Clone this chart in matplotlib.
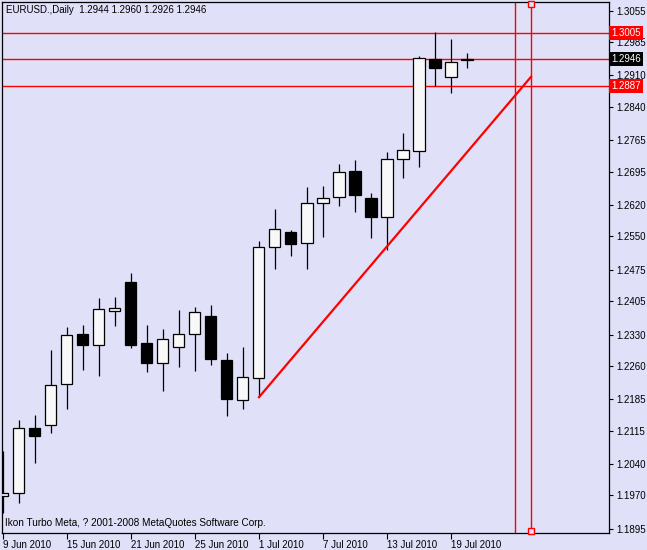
import matplotlib.pyplot as plt

plt.rcParams['font.family'] = ['Liberation Sans', 'DejaVu Sans']

# EURUSD daily candles, 9 Jun - 20 Jul 2010
dates = ['9 Jun', '10 Jun', '11 Jun', '14 Jun', '15 Jun', '16 Jun', '17 Jun', '18 Jun',
         '21 Jun', '22 Jun', '23 Jun', '24 Jun', '25 Jun', '28 Jun', '29 Jun', '30 Jun',
         '1 Jul', '2 Jul', '5 Jul', '6 Jul', '7 Jul', '8 Jul', '9 Jul', '12 Jul',
         '13 Jul', '14 Jul', '15 Jul', '16 Jul', '19 Jul', '20 Jul']
opens = [1.1969, 1.1976, 1.2121, 1.2128, 1.2220, 1.2331, 1.2307, 1.2383,
         1.2448, 1.2311, 1.2267, 1.2302, 1.2331, 1.2372, 1.2273, 1.2184,
         1.2233, 1.2526, 1.2560, 1.2535, 1.2625, 1.2638, 1.2696, 1.2636,
         1.2593, 1.2723, 1.2741, 1.2947, 1.2907, 1.2944]
highs = [1.2070, 1.2139, 1.2150, 1.2296, 1.2347, 1.2352, 1.2412, 1.2414,
         1.2468, 1.2352, 1.2343, 1.2385, 1.2392, 1.2396, 1.2289, 1.2302,
         1.2540, 1.2611, 1.2564, 1.2660, 1.2663, 1.2712, 1.2721, 1.2647,
         1.2739, 1.2781, 1.2954, 1.3007, 1.2992, 1.2960]
lows = [1.1930, 1.1953, 1.2043, 1.2110, 1.2164, 1.2251, 1.2237, 1.2349,
        1.2300, 1.2246, 1.2204, 1.2258, 1.2249, 1.2262, 1.2148, 1.2164,
        1.2190, 1.2477, 1.2506, 1.2477, 1.2549, 1.2618, 1.2605, 1.2546,
        1.2519, 1.2681, 1.2705, 1.2886, 1.2871, 1.2926]
closes = [1.1976, 1.2121, 1.2103, 1.2217, 1.2329, 1.2307, 1.2387, 1.2390,
          1.2307, 1.2267, 1.2320, 1.2331, 1.2381, 1.2275, 1.2186, 1.2235,
          1.2526, 1.2566, 1.2533, 1.2625, 1.2636, 1.2694, 1.2643, 1.2593,
          1.2723, 1.2743, 1.2949, 1.2927, 1.2940, 1.2946]

price_ticks = [1.3055, 1.2985, 1.2910, 1.2840, 1.2765, 1.2695, 1.2620, 1.2550, 1.2475,
               1.2405, 1.2330, 1.2260, 1.2185, 1.2115, 1.2040, 1.1970, 1.1895]

# objects on the chart
hline_levels = [1.3005, 1.2946, 1.2887]
hline_tag_colors = ['red', 'black', 'red']
trend_x = [16, 33]
trend_y = [1.2190, 1.2907]
vline_x = [32, 33]

bg = '#E0E0F8'
fig = plt.figure(figsize=(6.47, 5.5), dpi=100, facecolor=bg)
ax = fig.add_axes([2/647, 17/550, 607/647, 531/550], facecolor=bg)

x = list(range(len(dates)))
bottoms = [min(o, c) for o, c in zip(opens, closes)]
heights = [max(abs(c - o), 0.00005) for o, c in zip(opens, closes)]
colors = ['#F8F8F8' if c >= o else 'black' for o, c in zip(opens, closes)]

ax.vlines(x, lows, highs, color='black', linewidth=0.9, zorder=2)
ax.bar(x, heights, bottom=bottoms, width=0.69, color=colors,
       edgecolor='black', linewidth=0.9, zorder=3)

for lvl in hline_levels:
    ax.axhline(lvl, color='red', linewidth=1.0, zorder=1)
for vx in vline_x:
    ax.axvline(vx, color='red', linewidth=1.0, zorder=1)
ax.plot(trend_x, trend_y, color='red', linewidth=1.6, zorder=4)
ax.plot([vline_x[1], vline_x[1]], [1.3070, 1.1891], 's', markersize=4.5,
        markerfacecolor=bg, markeredgecolor='red', markeredgewidth=1,
        clip_on=False, zorder=5)

ax.set_xlim(-0.06, 37.875)
ax.set_ylim(1.1886, 1.30745)

# price scale on the right
ax.yaxis.tick_right()
ax.set_yticks(price_ticks)
ax.set_yticklabels(['%.4f' % p for p in price_ticks])
ax.tick_params(axis='y', direction='out', length=3, width=0.8, pad=2,
               labelsize=7, colors='black')

# dates every 4 bars
ax.set_xticks(x[::4])
ax.set_xticklabels([d + ' 2010' for d in dates[::4]])
for lbl in ax.get_xticklabels():
    lbl.set_horizontalalignment('left')
ax.tick_params(axis='x', direction='out', length=4, width=0.8, pad=1,
               labelsize=7)

for sp in ax.spines.values():
    sp.set_linewidth(0.9)

for lvl, col in zip(hline_levels, hline_tag_colors):
    ax.text(1.004, lvl, '%.4f' % lvl, transform=ax.get_yaxis_transform(),
            ha='left', va='center', color='white', fontsize=7,
            bbox=dict(boxstyle='square,pad=0.2', fc=col, ec='none'),
            clip_on=False, zorder=6)

fig.text(6/647, 1 - 10/550, 'EURUSD.,Daily  1.2944 1.2960 1.2926 1.2946',
         fontsize=7, va='center', ha='left')
fig.text(5/647, 1 - 523/550, 'Ikon Turbo Meta, ? 2001-2008 MetaQuotes Software Corp.',
         fontsize=7.2, va='center', ha='left')

fig.savefig('out.png', dpi=100, facecolor=bg)
